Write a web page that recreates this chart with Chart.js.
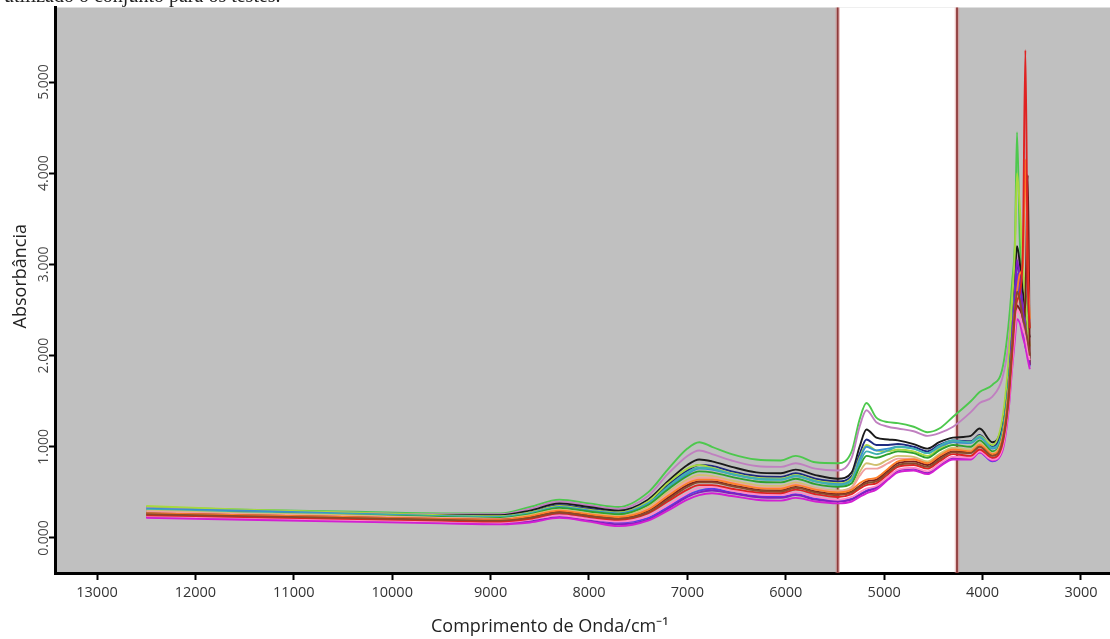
<!DOCTYPE html>
<html><head><meta charset="utf-8">
<script src="https://cdn.jsdelivr.net/npm/chart.js@4.4.1/dist/chart.umd.min.js"></script>
<style>html,body{margin:0;padding:0;background:#fff;overflow:hidden}</style>
</head><body>
<canvas id="c" width="1110" height="639"></canvas>
<script>
// ---- data ----
const wavenumbers = [12500,11500,10500,9500,8900,8600,8300,8000,7700,7400,7200,7000,6880,6750,6550,6300,6050,5900,5700,5470,5330,5250,5180,5080,4960,4860,4700,4560,4440,4300,4120,4030,3900,3800,3740,3700,3670,3650,3620,3590,3565,3540,3520];
const xTickValues = [13000,12000,11000,10000,9000,8000,7000,6000,5000,4000,3000];
const yTickValues = [0,1,2,3,4,5];
const regionStart = 5472;
const regionEnd = 4260;
const xTitle = 'Comprimento de Onda/cm\u207B\u00B9';
const yTitle = 'Absorb\u00E2ncia';

const s01 = [0.34,0.31,0.29,0.27,0.27,0.34,0.42,0.38,0.34,0.50,0.75,0.98,1.05,1.00,0.92,0.86,0.85,0.90,0.83,0.82,0.95,1.30,1.48,1.32,1.27,1.26,1.22,1.16,1.20,1.33,1.50,1.60,1.68,1.85,2.30,2.80,3.30,4.45,3.20,2.90,2.70,2.50,2.30];
const s02 = [0.33,0.30,0.28,0.26,0.26,0.32,0.40,0.36,0.32,0.46,0.70,0.90,0.96,0.92,0.85,0.79,0.78,0.82,0.76,0.74,0.88,1.22,1.40,1.27,1.22,1.20,1.17,1.12,1.15,1.22,1.38,1.48,1.55,1.75,2.10,2.60,3.00,3.10,2.90,2.60,2.40,2.20,2.10];
const s03 = [0.30,0.28,0.27,0.25,0.25,0.30,0.38,0.34,0.30,0.42,0.62,0.80,0.86,0.84,0.78,0.72,0.71,0.75,0.69,0.65,0.72,1.00,1.19,1.10,1.08,1.07,1.03,0.98,1.05,1.10,1.12,1.20,1.05,1.25,1.80,2.40,2.90,3.20,3.00,2.70,2.50,2.30,2.20];
const s04 = [0.29,0.27,0.26,0.24,0.24,0.28,0.36,0.32,0.28,0.40,0.58,0.74,0.80,0.79,0.73,0.68,0.67,0.71,0.65,0.62,0.68,0.92,1.08,1.02,1.02,1.03,1.00,0.95,1.02,1.07,1.06,1.13,1.00,1.20,1.70,2.30,2.80,3.00,2.80,2.50,2.30,2.10,2.00];
const s05 = [0.32,0.30,0.27,0.24,0.23,0.27,0.34,0.30,0.27,0.38,0.55,0.70,0.76,0.75,0.70,0.65,0.64,0.68,0.62,0.59,0.64,0.86,1.00,0.96,0.98,1.00,0.98,0.93,1.00,1.05,1.04,1.10,0.98,1.15,1.60,2.20,2.70,2.90,2.70,2.40,2.20,2.05,1.95];
const s06 = [0.35,0.31,0.28,0.25,0.24,0.28,0.35,0.31,0.28,0.40,0.60,0.76,0.80,0.77,0.71,0.66,0.65,0.69,0.63,0.60,0.66,0.88,1.02,0.96,0.95,0.97,0.95,0.90,0.98,1.05,1.05,1.12,1.02,1.30,1.90,2.60,3.20,4.00,3.60,3.00,2.60,2.30,2.10];
const s07 = [0.28,0.26,0.25,0.23,0.22,0.26,0.33,0.29,0.26,0.36,0.53,0.68,0.73,0.72,0.67,0.62,0.61,0.65,0.59,0.56,0.60,0.78,0.90,0.88,0.92,0.95,0.93,0.88,0.96,1.02,1.00,1.07,0.95,1.12,1.60,2.20,2.60,2.80,2.60,2.35,2.20,2.05,1.95];
const s08 = [0.30,0.27,0.25,0.22,0.21,0.25,0.31,0.27,0.24,0.34,0.50,0.64,0.69,0.68,0.63,0.58,0.57,0.61,0.55,0.52,0.56,0.72,0.82,0.80,0.86,0.90,0.89,0.84,0.92,0.99,0.97,1.04,0.93,1.10,1.55,2.10,2.50,2.70,2.55,2.30,2.15,2.00,1.90];
const s09 = [0.26,0.24,0.22,0.20,0.19,0.22,0.28,0.24,0.21,0.28,0.42,0.56,0.61,0.61,0.57,0.52,0.51,0.55,0.50,0.47,0.50,0.56,0.60,0.62,0.72,0.80,0.82,0.78,0.86,0.94,0.93,1.00,0.90,1.05,1.50,2.10,2.50,2.70,2.60,2.40,2.30,2.15,2.00];
const s10 = [0.25,0.23,0.21,0.19,0.18,0.21,0.27,0.23,0.20,0.27,0.40,0.53,0.58,0.58,0.54,0.50,0.49,0.53,0.48,0.45,0.48,0.54,0.58,0.60,0.70,0.78,0.80,0.76,0.84,0.92,0.90,0.97,0.88,1.02,1.45,2.00,2.45,2.60,2.70,3.20,5.35,2.80,2.30];
const s11 = [0.27,0.25,0.23,0.21,0.20,0.24,0.30,0.26,0.23,0.31,0.46,0.60,0.64,0.64,0.60,0.55,0.54,0.58,0.53,0.50,0.53,0.60,0.64,0.66,0.76,0.84,0.86,0.82,0.90,0.97,0.95,1.02,0.92,1.08,1.55,2.10,2.50,2.70,2.90,3.00,4.15,2.90,2.40];
const s12 = [0.24,0.22,0.20,0.18,0.17,0.20,0.25,0.21,0.18,0.24,0.36,0.49,0.55,0.56,0.52,0.48,0.47,0.50,0.45,0.42,0.45,0.50,0.54,0.57,0.67,0.75,0.77,0.73,0.81,0.89,0.88,0.95,0.86,0.98,1.40,1.90,2.30,2.50,2.45,2.30,2.20,2.05,1.95];
const s13 = [0.22,0.20,0.18,0.16,0.15,0.17,0.22,0.18,0.13,0.19,0.30,0.42,0.47,0.49,0.46,0.42,0.41,0.44,0.40,0.38,0.40,0.45,0.49,0.53,0.64,0.72,0.74,0.70,0.78,0.86,0.86,0.94,0.85,0.95,1.35,1.85,2.20,2.40,2.35,2.20,2.10,1.95,1.85];
const s14 = [0.23,0.21,0.19,0.17,0.16,0.18,0.23,0.19,0.15,0.20,0.32,0.45,0.50,0.52,0.49,0.45,0.44,0.47,0.42,0.40,0.42,0.47,0.51,0.55,0.66,0.74,0.76,0.71,0.80,0.88,0.87,0.95,0.86,1.00,1.50,2.20,2.70,3.05,2.80,2.50,2.30,2.05,1.90];
const s15 = [0.27,0.25,0.23,0.21,0.20,0.23,0.29,0.25,0.22,0.30,0.44,0.58,0.62,0.62,0.58,0.53,0.52,0.56,0.51,0.48,0.51,0.57,0.62,0.64,0.74,0.82,0.84,0.80,0.88,0.95,0.94,1.01,0.91,1.06,1.50,2.05,2.40,2.55,2.50,2.40,2.60,3.98,1.90];
const s16 = [0.25,0.23,0.21,0.19,0.18,0.20,0.25,0.21,0.17,0.22,0.34,0.47,0.52,0.54,0.50,0.46,0.45,0.48,0.43,0.41,0.43,0.48,0.52,0.56,0.66,0.74,0.76,0.72,0.80,0.88,0.87,0.94,0.84,1.00,1.50,2.20,2.60,2.90,2.60,2.30,2.10,2.00,1.88];
const s17 = [0.29,0.26,0.24,0.22,0.21,0.24,0.30,0.26,0.23,0.32,0.48,0.62,0.66,0.66,0.61,0.56,0.55,0.59,0.54,0.51,0.55,0.68,0.76,0.76,0.82,0.87,0.87,0.82,0.90,0.97,0.95,1.02,0.92,1.08,1.55,2.10,2.50,2.65,2.55,2.40,2.25,2.10,2.00];
const s18 = [0.31,0.28,0.26,0.24,0.23,0.27,0.33,0.29,0.26,0.37,0.56,0.72,0.77,0.76,0.70,0.65,0.64,0.68,0.62,0.58,0.63,0.82,0.95,0.92,0.96,1.00,0.98,0.93,1.01,1.07,1.05,1.11,0.99,1.16,1.65,2.25,2.70,2.85,2.70,2.45,2.30,2.10,2.00];

const seriesList = [s09,s10,s11,s12,s13,s14,s15,s16,s17,s08,s07,s18,s05,s06,s04,s03,s02,s01];
const seriesColors = ['#8b4a2b','#e02222','#ff7f2a','#ff88c8','#d21fd2','#7f1fbf','#7a1e1e','#5a3ce6','#f0a0a0','#d0c070','#2ea02e','#40b0b0','#3a8fd0','#a8d840','#1f2a80','#1a1a1a','#c080c0','#4dc84d'];

// ---- plugins ----
const backgroundPlugin = {
  id: 'bg',
  beforeDraw(chart) {
    const {ctx, chartArea: a, scales: {x}} = chart;
    ctx.save();
    ctx.fillStyle = '#c0c0c0';
    ctx.fillRect(a.left, a.top, a.right - a.left, a.bottom - a.top);
    const x1 = x.getPixelForValue(regionStart), x2 = x.getPixelForValue(regionEnd);
    ctx.fillStyle = '#ffffff';
    ctx.fillRect(x1, a.top, x2 - x1, a.bottom - a.top);
    ctx.restore();
  },
  beforeDatasetsDraw(chart) {
    const {ctx, chartArea: a, scales: {x}} = chart;
    ctx.save();
    [regionStart, regionEnd].forEach(v => {
      const px = x.getPixelForValue(v);
      ctx.strokeStyle = 'rgba(215,130,130,0.45)';
      ctx.lineWidth = 4.5;
      ctx.beginPath(); ctx.moveTo(px, a.top); ctx.lineTo(px, a.bottom); ctx.stroke();
      ctx.strokeStyle = '#8e3b3b';
      ctx.lineWidth = 1.8;
      ctx.beginPath(); ctx.moveTo(px, a.top); ctx.lineTo(px, a.bottom); ctx.stroke();
    });
    ctx.restore();
  },
  afterDraw(chart) {
    const ctx = chart.ctx;
    ctx.save();
    ctx.fillStyle = '#222';
    ctx.font = '20px "Liberation Serif"';
    ctx.textBaseline = 'alphabetic';
    ctx.fillText('utilizado o conjunto para os testes.', 4, 1.5);
    ctx.restore();
  }
};

new Chart(document.getElementById('c'), {
  type: 'line',
  data: {
    datasets: seriesList.map((s, i) => ({
      data: wavenumbers.map((w, j) => ({x: w, y: s[j]})),
      borderColor: seriesColors[i],
      borderWidth: 1.9,
      pointRadius: 0,
      fill: false,
      cubicInterpolationMode: 'monotone'
    }))
  },
  options: {
    responsive: false,
    animation: false,
    layout: {padding: {top: 7.5, right: 0, left: 0, bottom: 0}},
    plugins: {legend: {display: false}, tooltip: {enabled: false}},
    scales: {
      x: {
        type: 'linear',
        reverse: true,
        min: 2705,
        max: 13427,
        afterBuildTicks: s => { s.ticks = xTickValues.map(v => ({value: v})); },
        afterFit: s => { s.height = 66; },
        ticks: {
          callback: v => String(v),
          color: '#333',
          font: {family: '"Open Sans"', size: 14.5},
          padding: 4,
          maxRotation: 0,
          autoSkip: false
        },
        grid: {drawOnChartArea: false, drawTicks: true, tickLength: 7, tickWidth: 2, tickColor: '#000', color: '#000'},
        border: {display: true, color: '#000', width: 3},
        title: {
          display: true,
          text: xTitle + '\u00A0'.repeat(14),
          color: '#222',
          font: {family: '"Open Sans"', size: 18},
          padding: {top: 0, bottom: 1}
        }
      },
      y: {
        type: 'linear',
        min: -0.384,
        max: 5.817,
        afterBuildTicks: s => { s.ticks = yTickValues.map(v => ({value: v})); },
        afterFit: s => { s.width = 55; },
        ticks: {
          callback: v => v.toFixed(3),
          color: '#444',
          font: {family: '"Open Sans"', size: 14},
          minRotation: 90,
          maxRotation: 90,
          crossAlign: 'center',
          padding: -13
        },
        grid: {drawOnChartArea: false, drawTicks: true, tickLength: 6, tickWidth: 2, tickColor: '#000', color: '#000'},
        border: {display: true, color: '#000', width: 3},
        title: {
          display: true,
          text: '\u00A0'.repeat(6) + yTitle,
          color: '#222',
          font: {family: '"Open Sans"', size: 18},
          padding: {top: 10, bottom: 0}
        }
      }
    }
  },
  plugins: [backgroundPlugin]
});
</script>
</body></html>
